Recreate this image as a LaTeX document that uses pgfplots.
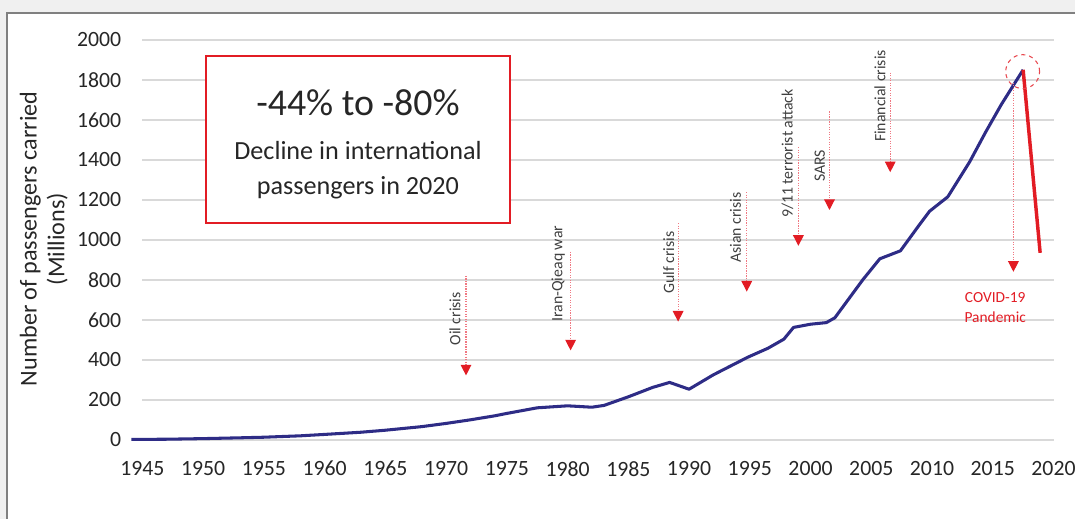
\documentclass[border=0pt]{standalone}
\usepackage{pgfplots}
\pgfplotsset{compat=1.18}
\usepackage{fontspec}
\setmainfont{Carlito}
\usetikzlibrary{arrows.meta}
\definecolor{navy}{RGB}{46,44,134}
\definecolor{cred}{RGB}{226,28,36}
\definecolor{dotred}{RGB}{240,120,130}
\definecolor{gridc}{RGB}{217,217,217}
\definecolor{txt}{RGB}{38,38,38}
\definecolor{anntxt}{RGB}{64,64,64}
\definecolor{framec}{RGB}{128,128,128}
\definecolor{bgc}{RGB}{240,240,240}

\pgfplotstableread{
x y
1944.1 2
1947 3
1950 6
1953 10
1955 13
1958 20
1960 27
1963 38
1965 48
1968 66
1970 82
1972 100
1974 120
1975 132
1977.5 160
1980 170
1982 163
1983 172
1985 215
1987 262
1988.4 287
1990 253
1992 325
1994.8 412
1996.5 458
1997.8 503
1998.6 562
2000 578
2001.3 586
2002 610
2004.3 800
2005.7 905
2007.4 945
2008.9 1070
2009.8 1143
2011.3 1215
2013.1 1390
2014.4 1537
2015.7 1676
2017.5 1850
}\intl

\begin{document}
\begin{tikzpicture}
\begin{scope}[x=0.75pt,y=0.75pt]
\path[use as bounding box] (0,0) rectangle (1080,521);
\fill[bgc] (0,508) rectangle (1080,521);
\fill[bgc] (0,0) rectangle (7,521);
\draw[framec, line width=1.5pt] (7,0) -- (7,508) -- (1080,508);
\end{scope}
\begin{axis}[
  at={(107.25pt,59.475pt)}, anchor=south west, scale only axis,
  width=686.25pt, height=301.3pt,
  xmin=1945, xmax=2020, ymin=0, ymax=2000,
  xtick={1945,1950,1955,1960,1965,1970,1975,1980,1985,1990,1995,2000,2005,2010,2015,2020},
  ytick={0,200,400,600,800,1000,1200,1400,1600,1800,2000},
  ymajorgrids, grid style={gridc, line width=1.2pt},
  axis line style={draw=none}, major tick length=0pt,
  clip=false,
  /pgf/number format/1000 sep={}, /pgf/number format/assume math mode=true,
  ticklabel style={font=\fontsize{16.4}{18}\selectfont, text=txt},
  xticklabel style={anchor=center, yshift=-21.75pt},
  yticklabel style={anchor=east, inner sep=0pt, xshift=-15.75pt},
]
\addplot[navy, line width=2.3pt, line join=round] table[x=x,y=y] {\intl};
\addplot[cred, line width=2.6pt] coordinates {(2017.5,1850) (2018.9,935)};

% event markers
\draw[dotred, densely dotted, line width=0.9pt, -{Triangle[width=8pt,length=8pt,color=cred,fill=cred]}] (axis cs:1971.64,820) -- (axis cs:1971.64,322);
\draw[dotred, densely dotted, line width=0.9pt, -{Triangle[width=8pt,length=8pt,color=cred,fill=cred]}] (axis cs:1980.25,940) -- (axis cs:1980.25,447);
\draw[dotred, densely dotted, line width=0.9pt, -{Triangle[width=8pt,length=8pt,color=cred,fill=cred]}] (axis cs:1989.1,1084) -- (axis cs:1989.1,591);
\draw[dotred, densely dotted, line width=0.9pt, -{Triangle[width=8pt,length=8pt,color=cred,fill=cred]}] (axis cs:1994.75,1238) -- (axis cs:1994.75,741);
\draw[dotred, densely dotted, line width=0.9pt, -{Triangle[width=8pt,length=8pt,color=cred,fill=cred]}] (axis cs:1999.0,1463) -- (axis cs:1999.0,970);
\draw[dotred, densely dotted, line width=0.9pt, -{Triangle[width=8pt,length=8pt,color=cred,fill=cred]}] (axis cs:2001.56,1642) -- (axis cs:2001.56,1149);
\draw[dotred, densely dotted, line width=0.9pt, -{Triangle[width=8pt,length=8pt,color=cred,fill=cred]}] (axis cs:2006.56,1836) -- (axis cs:2006.56,1338);
\draw[dotred, densely dotted, line width=0.9pt, -{Triangle[width=8pt,length=8pt,color=cred,fill=cred]}] (axis cs:2016.7,1786) -- (axis cs:2016.7,840);

\tikzset{ann/.style={rotate=90, anchor=south west, inner sep=0pt, font=\fontsize{11.9}{13}\selectfont, text=anntxt}}
\node[ann] at (axis cs:1971.2,471) {Oil crisis};
\node[ann] at (axis cs:1979.8,590) {Iran-Qieaq war};
\node[ann] at (axis cs:1988.8,730) {Gulf crisis};
\node[ann] at (axis cs:1994.3,884) {Asian crisis};
\node[ann] at (axis cs:1998.6,1108) {9/11 terrorist attack};
\node[ann] at (axis cs:2001.2,1288) {SARS};
\node[ann] at (axis cs:2006.2,1488) {Financial crisis};

\node[text=cred, align=center, font=\fontsize{11.6}{15}\selectfont] at (axis cs:2015.2,661) {COVID-19\\Pandemic};
\draw[cred!80, dashed, line width=0.8pt] (axis cs:2017.46,1841) circle[radius=12.75pt];
\end{axis}

\begin{scope}[x=0.75pt,y=0.75pt]
\draw[cred, line width=1.5pt, fill=white] (207,465) rectangle (512,297);
\node[anchor=base, inner sep=0pt, font=\fontsize{28.5}{30}\selectfont, text=txt] at (359.5,405.5) {-44\% to -80\%};
\node[anchor=base, inner sep=0pt, font=\fontsize{19.7}{22}\selectfont, text=txt] at (359.5,361) {Decline in international};
\node[anchor=base, inner sep=0pt, font=\fontsize{19.7}{22}\selectfont, text=txt] at (359.5,326) {passengers in 2020};
\node[rotate=90, align=center, font=\fontsize{18.2}{21}\selectfont, text=txt] at (44,281) {Number of passengers carried\\(Millions)};
\end{scope}
\end{tikzpicture}
\end{document}
